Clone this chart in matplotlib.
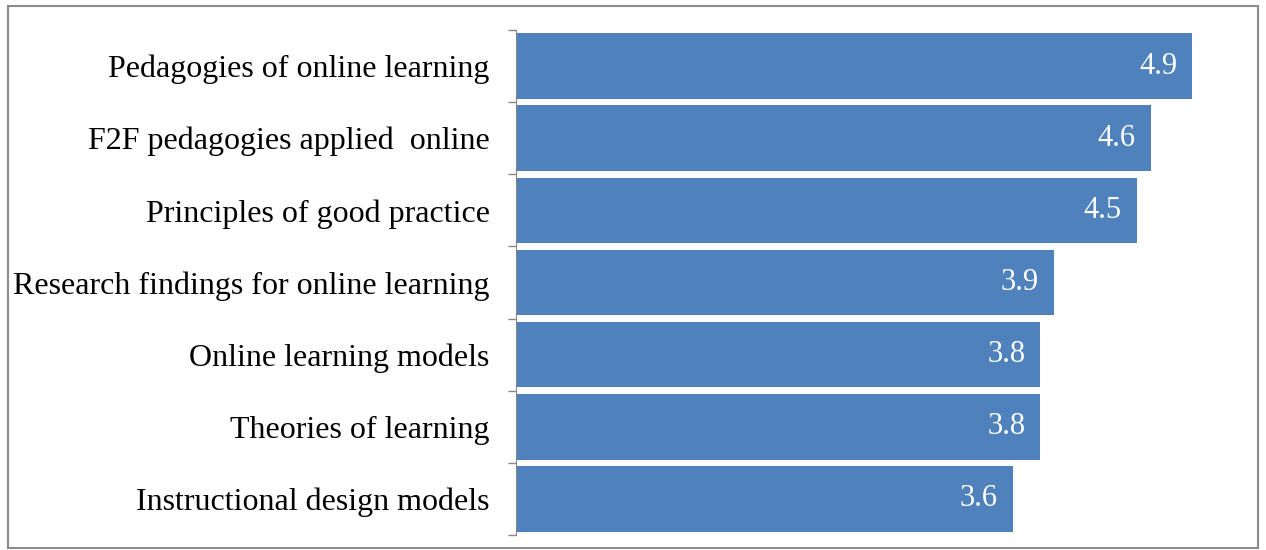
import matplotlib.pyplot as plt
from matplotlib.patches import Rectangle

# categories listed top to bottom
categories = ['Pedagogies of online learning',
              'F2F pedagogies applied  online',
              'Principles of good practice',
              'Research findings for online learning',
              'Online learning models',
              'Theories of learning',
              'Instructional design models']
scores = [4.9, 4.6, 4.5, 3.9, 3.8, 3.8, 3.6]

bar_color = '#4F81BD'
plt.rcParams['font.family'] = ['Liberation Serif', 'DejaVu Serif']

fig = plt.figure(figsize=(12.66, 5.5), dpi=100)
ax = fig.add_axes([516 / 1266, 1 - 535 / 550, (1206 - 516) / 1266, 505 / 550])

n = len(categories)
ypos = list(range(n - 1, -1, -1))
bars = ax.barh(ypos, scores, height=0.91, color=bar_color)

for b, v in zip(bars, scores):
    ax.text(b.get_width() - 0.11, b.get_y() + b.get_height() / 2, f'{v:.1f}',
            ha='right', va='center', color='white', fontsize=22)

ax.set_xlim(0, 5)
ax.set_ylim(-0.5, n - 0.5)
ax.set_yticks(ypos)
ax.set_yticklabels(categories, fontsize=23)
ax.set_yticks([i - 0.5 for i in range(n + 1)], minor=True)
ax.tick_params(axis='y', which='major', length=0, pad=19)
ax.tick_params(axis='y', which='minor', length=6, color='#868686', width=1)
ax.set_xticks([])
for s in ['top', 'right', 'bottom']:
    ax.spines[s].set_visible(False)
ax.spines['left'].set_color('#868686')

# outer chart frame
fig.patches.append(Rectangle((8 / 1266, 2 / 550), 1250 / 1266, 542 / 550,
                             transform=fig.transFigure, fill=False,
                             edgecolor='#8c8c8c', linewidth=1.5))

fig.savefig('out.png', dpi=100)
